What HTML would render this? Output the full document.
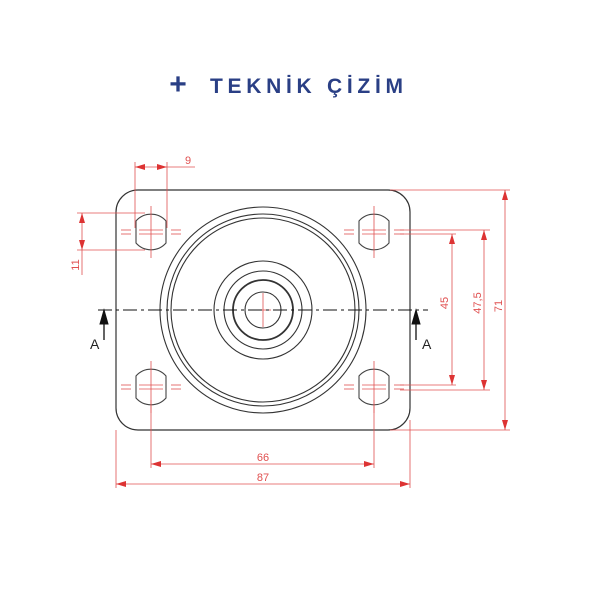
<!DOCTYPE html>
<html><head><meta charset="utf-8"><style>
html,body{margin:0;padding:0;background:#fff;width:600px;height:600px;overflow:hidden}
svg{display:block}
</style></head><body>
<svg width="600" height="600" viewBox="0 0 600 600" xmlns="http://www.w3.org/2000/svg">
<defs>
<marker id="ar" viewBox="0 0 10 6" refX="10" refY="3" markerWidth="10" markerHeight="6" orient="auto-start-reverse" markerUnits="userSpaceOnUse"><path d="M0,0 L10,3 L0,6 Z" fill="#d33"/></marker>
<g id="hole"><path d="M-15,-11 A20,20 0 0 1 15,-11 L15,11 A20,20 0 0 1 -15,11 Z" fill="none" stroke="#444" stroke-width="1.1"/>
<g stroke="#e05050" stroke-width="0.8" fill="none">
<line x1="0" y1="-26" x2="0" y2="26"/><line x1="-30" y1="-2" x2="-20" y2="-2"/><line x1="-30" y1="2" x2="-20" y2="2"/>
<line x1="20" y1="-2" x2="30" y2="-2"/><line x1="20" y1="2" x2="30" y2="2"/>
<line x1="-12" y1="-2" x2="12" y2="-2"/><line x1="-12" y1="2" x2="12" y2="2"/></g></g>
</defs>
<text x="178" y="94" font-family="Liberation Sans, sans-serif" font-size="30" font-weight="bold" fill="#2a3f85" text-anchor="middle">+</text>
<text x="210" y="93" font-family="Liberation Sans, sans-serif" font-size="21" font-weight="bold" fill="#2a3f85" textLength="193" lengthAdjust="spacing">TEKNİK ÇİZİM</text>

<rect x="116" y="190" width="294" height="240" rx="22" fill="none" stroke="#333" stroke-width="1.2"/>
<g fill="none" stroke="#333" stroke-width="1.1">
<circle cx="263" cy="310" r="103"/><circle cx="263" cy="310" r="96"/><circle cx="263" cy="310" r="92"/>
<circle cx="263" cy="310" r="49"/><circle cx="263" cy="310" r="39"/><circle cx="263" cy="310" r="30" stroke-width="1.8"/><circle cx="263" cy="310" r="18"/>
</g>
<g stroke="#e05050" stroke-width="0.8"><line x1="263" y1="293" x2="263" y2="327"/><line x1="255" y1="310" x2="271" y2="310"/></g>
<use href="#hole" x="151" y="232"/><use href="#hole" x="374" y="232"/>
<use href="#hole" x="151" y="387"/><use href="#hole" x="374" y="387"/>

<line x1="98" y1="310" x2="428" y2="310" stroke="#111" stroke-width="1.1" stroke-dasharray="14,4,3,4"/>
<g fill="#111" stroke="#111"><line x1="104" y1="340" x2="104" y2="320" stroke-width="1.3"/><path d="M100,324 L104,310 L108,324 Z"/>
<line x1="416" y1="340" x2="416" y2="320" stroke-width="1.3"/><path d="M412,324 L416,310 L420,324 Z"/></g>
<text x="90" y="349" font-family="Liberation Sans, sans-serif" font-size="14" fill="#222">A</text>
<text x="422" y="349" font-family="Liberation Sans, sans-serif" font-size="14" fill="#222">A</text>

<g stroke="#e05050" stroke-width="0.8" fill="none">
<line x1="135" y1="162" x2="135" y2="228"/><line x1="167" y1="162" x2="167" y2="228"/>
<line x1="135" y1="167" x2="167" y2="167" marker-start="url(#ar)" marker-end="url(#ar)"/><line x1="167" y1="167" x2="195" y2="167"/>
<line x1="77" y1="213" x2="145" y2="213"/><line x1="77" y1="250" x2="145" y2="250"/>
<line x1="82" y1="213" x2="82" y2="250" marker-start="url(#ar)" marker-end="url(#ar)"/><line x1="82" y1="250" x2="82" y2="275"/>
<line x1="400" y1="230" x2="490" y2="230"/><line x1="400" y1="390" x2="490" y2="390"/>
<line x1="400" y1="234" x2="456" y2="234"/><line x1="400" y1="385" x2="456" y2="385"/>
<line x1="390" y1="190" x2="510" y2="190"/><line x1="390" y1="430" x2="510" y2="430"/>
<line x1="452" y1="234" x2="452" y2="385" marker-start="url(#ar)" marker-end="url(#ar)"/>
<line x1="484" y1="230" x2="484" y2="390" marker-start="url(#ar)" marker-end="url(#ar)"/>
<line x1="505" y1="190" x2="505" y2="430" marker-start="url(#ar)" marker-end="url(#ar)"/>
<line x1="151" y1="400" x2="151" y2="468"/><line x1="374" y1="400" x2="374" y2="468"/>
<line x1="116" y1="430" x2="116" y2="488"/><line x1="410" y1="420" x2="410" y2="488"/>
<line x1="151" y1="464" x2="374" y2="464" marker-start="url(#ar)" marker-end="url(#ar)"/>
<line x1="116" y1="484" x2="410" y2="484" marker-start="url(#ar)" marker-end="url(#ar)"/>
</g>
<g font-family="Liberation Sans, sans-serif" font-size="11" fill="#e05050" text-anchor="middle">
<text x="188" y="164">9</text>
<text x="263" y="461">66</text>
<text x="263" y="481">87</text>
<text transform="translate(79,265) rotate(-90)">11</text>
<text transform="translate(448,303) rotate(-90)">45</text>
<text transform="translate(481,303) rotate(-90)">47,5</text>
<text transform="translate(502,306) rotate(-90)">71</text>
</g>
</svg>
</body></html>
